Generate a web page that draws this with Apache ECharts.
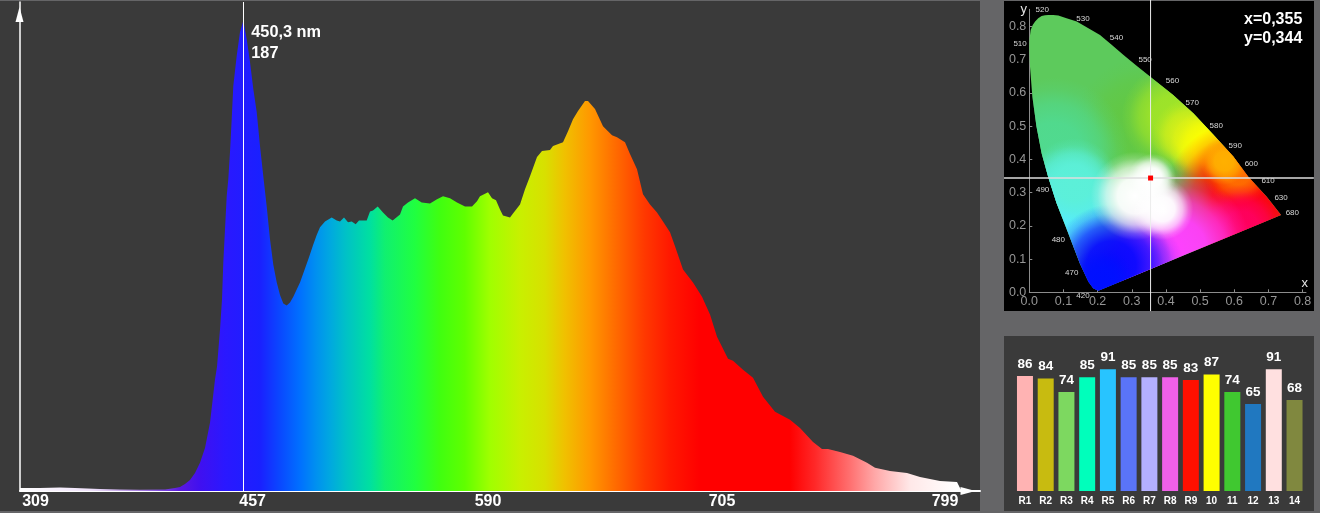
<!DOCTYPE html>
<html><head><meta charset="utf-8">
<style>html,body{margin:0;padding:0;background:#656567;overflow:hidden}#c{width:1320px;height:513px}</style>
<script src="https://cdn.jsdelivr.net/npm/echarts@6/dist/echarts.min.js"></script>
</head><body><div id="c"></div>
<script>
// Spectrum: detector channel (non-linear in nm) and intensity
const channel = [0,20,40,55,80,100,120,145,155,160,165,170,175,180,185,190,195,197,200,202,203.3,206.7,208.3,210,211.7,213.3,216.7,220,223.3,226.7,230,233.3,236.7,240,243.3,246.7,250,253.3,256.7,260,263.3,266.7,270,273.3,276.7,280,285,289,293,296.7,300,305,311.7,316.7,320,324,328,331.7,335.7,339,346.7,350,353,357.7,363,368,372.7,380,383,388,395,401.7,410,417,423,430,437,445,452,457,460,468,472,476,480,483,490,493,500,505,510,517,522,530,533,543,548,553,558,565,568,575,583,588,592,597,605,610,617,623,630,637,643,650,655,663,673,682,690,697,708,713,723,733,743,755,770,780,793,802,808,820,833,847,855,870,887,900,920,937,940,942];
const intensity = [1.2,1.2,1.4,1.2,0.8,0.6,0.5,0.6,1.2,1.6,2.8,4.4,7.2,11.2,17.1,27.1,44.3,49.4,64.2,76.2,90.9,117.2,124,134.8,147.9,161.1,173,182.6,187,179.8,170.6,159.9,150.7,137.2,125.2,113.2,100.1,90,83,78,74.6,73.8,75,77.3,80.1,82.9,88.5,93,97.7,101.8,104.9,107.2,108.8,107.6,107.2,108.8,106.9,107.2,106.1,107.6,107.6,111.2,111.6,113.2,110.8,108.8,107.6,110,113.2,114.8,116.4,114.8,114.4,116,117.2,116.4,114.8,113.2,113.2,115.2,117.2,118.8,116.4,115.6,112,109.6,108.8,110.4,114,120,125.2,132.8,135.2,135.6,137.2,138.7,143.1,147.9,151.1,155.1,155.1,151.9,145.1,143.1,141.5,140.7,138.7,134,128,118,114,110.8,107.2,102.9,97.3,88.1,82.9,77.3,70.2,61.4,52.6,51.8,48.2,45,37.5,31.5,28.3,25.1,19.5,16.7,16.7,15.5,14,11.2,9.2,8,7.2,5.6,4,3.6,1.2,0];
const tickChannels = [15.5,232.6,468,702,925];
const tickLabels = ['309','457','590','705','799'];
const peakChannel = 223.3, peakNm = '450,3', peakValue = 187;

// Colour rendering indices
const criNames = ['R1','R2','R3','R4','R5','R6','R7','R8','R9','10','11','12','13','14'];
const criValues = [86,84,74,85,91,85,85,85,83,87,74,65,91,68];
const criColors = ['#ffb3b3','#c8bb10','#7dd860','#00ffbb','#28c4ff','#5a74f8','#b4b0ff','#f060e8','#ff1000','#ffff00','#40c830','#2078c0','#ffe0e0','#80883f'];

// CIE 1931 diagram
const locusX = [0,0.001,0.004,0.010,0.017,0.026,0.036,0.046,0.056,0.070,0.085,0.109,0.139,0.173,0.207,0.241,0.275,0.314,0.355,0.421,0.48,0.539,0.597,0.641,0.695,0.737,0.202,0.187,0.173,0.148,0.114,0.08,0.056,0.036,0.021,0.009,0.002];
const locusY = [0.74,0.765,0.79,0.805,0.815,0.825,0.832,0.834,0.835,0.835,0.833,0.825,0.815,0.795,0.775,0.745,0.715,0.682,0.648,0.594,0.539,0.474,0.409,0.348,0.288,0.233,0.005,0.012,0.032,0.087,0.178,0.268,0.345,0.419,0.499,0.589,0.68];
const nmLabels = ['520','530','540','550','560','570','580','590','600','610','630','680','510','490','480','470','420'];
const nmX = [0.038,0.157,0.255,0.339,0.419,0.477,0.547,0.603,0.650,0.699,0.737,0.770,-0.027,0.039,0.085,0.124,0.157];
const nmY = [0.852,0.824,0.765,0.699,0.636,0.572,0.500,0.440,0.386,0.335,0.286,0.240,0.747,0.309,0.159,0.060,-0.012];
const whiteX = 0.355, whiteY = 0.344;
const cieTicks = [0,0.1,0.2,0.3,0.4,0.5,0.6,0.7,0.8];
const axisNameText = ['x','y'], axisNameX = [0.806,-0.016], axisNameY = [0.027,0.852];

// Styles
const specStopPx = [20,90,110,140,180,200,225,260,280,300,316,330,345,370,385,415,440,465,490,520,545,565,590,615,645,670,700,790,815,850,875,910,957];
const specStopColor = ['#ffffff','#efe2fa','#d4bdee','#a67ee0','#5a18e0','#4010f0','#2a18ff','#1a20ff','#0a48ff','#0070ff','#0090f0','#00a8e0','#00c0c8','#00e0a0','#10f070','#20ff40','#40ff10','#60ff00','#a0ff00','#c8f000','#d8e000','#f0c000','#ff9800','#ff6c00','#ff3800','#ff1800','#ff0000','#ff0000','#ff2828','#ff7070','#ffa8a8','#ffe8e8','#ffffff'];
const blobX = [0.33,0.07,0.11,0.13,0.42,0.47,0.53,0.63,0.61,0.57,0.62,0.43,0.33,0.24,0.21,0.31,0.39,0.36];
const blobY = [0.5,0.42,0.23,0.33,0.53,0.47,0.43,0.27,0.365,0.395,0.19,0.13,0.09,0.08,0.03,0.29,0.25,0.345];
const blobR = [0.2,0.22,0.2,0.13,0.15,0.11,0.12,0.24,0.1,0.07,0.13,0.22,0.12,0.18,0.1,0.13,0.09,0.07];
const blobColor = ['#62c844','#50da90','#55ecff','#5cf0d8','#a0e428','#d8f018','#ffff00','#ff0000','#ff7000','#ffb000','#ff0060','#ff40ff','#a030ff','#0808ff','#0010ff','#ffffff','#ffffff','#ffffff'];
const falloff = [[0,'ff'],[0.4,'f0'],[0.65,'a0'],[0.85,'30'],[1,'00']];
const LABEL = 'Liberation Sans';

const chart = echarts.init(document.getElementById('c'), null, {renderer:'canvas'});
const xScale = 341.7;
function renderGamut(params, api){
  const pts = locusX.map((x,i)=>api.coord([x,locusY[i]]));
  const children = [{type:'polygon',shape:{points:pts},style:{fill:'#5dca5c'}}];
  blobX.forEach((x,i)=>{
    const c = api.coord([x,blobY[i]]);
    children.push({type:'polygon',shape:{points:pts},style:{fill:new echarts.graphic.RadialGradient(c[0],c[1],blobR[i]*xScale,
      falloff.map(f=>({offset:f[0],color:blobColor[i]+f[1]})),true)}});
  });
  return {type:'group',children};
}
function renderCross(params, api){
  const x = api.value(0), y = api.value(1);
  const a = api.coord([x,0.88]), b = api.coord([x,-0.0565]);
  const c = api.coord([-0.074,y]), d = api.coord([0.833,y]);
  return {type:'group',children:[
    {type:'line',shape:{x1:a[0],y1:a[1],x2:b[0],y2:b[1]},style:{stroke:'#ececec',lineWidth:1}},
    {type:'line',shape:{x1:c[0],y1:c[1],x2:d[0],y2:d[1]},style:{stroke:'#dedede',lineWidth:1.5}}
  ]};
}
const rectPanel = (x,y,w,h,fill)=>({type:'rect',shape:{x,y,width:w,height:h},style:{fill},z:-10,silent:true});
const cieAxis = (extra)=>Object.assign({type:'value',min:0,splitLine:{show:false},
  axisLine:{show:true,onZero:false,lineStyle:{color:'#8c8c8c',width:1}},
  axisTick:{show:true,inside:true,length:3,lineStyle:{color:'#8c8c8c'},customValues:cieTicks},
  axisLabel:{color:'#969696',fontFamily:LABEL,fontSize:12.5,margin:3,customValues:cieTicks,formatter:v=>v.toFixed(1)}},extra);

chart.setOption({
  animation:false,
  backgroundColor:'#656567',
  title:{text:'x=0,355\ny=0,344',left:1239,top:5,textStyle:{color:'#fff',fontFamily:LABEL,fontSize:16,fontWeight:'bold',lineHeight:19}},
  graphic:[rectPanel(0,1,980,510,'#3a3a3a'),rectPanel(1004,1,310,310,'#000'),rectPanel(1004,336,310,175,'#3a3a3a')],
  grid:[
    {left:20,right:340,top:2,bottom:22},
    {left:1029.3,right:14,top:9.3,bottom:220.7},
    {left:1014.6,right:15.1,top:357.2,bottom:22}
  ],
  xAxis:[
    {gridIndex:0,type:'value',min:0,max:960,splitLine:{show:false},axisTick:{show:false},
      axisLine:{show:true,lineStyle:{color:'#fff',width:2}},
      axisLabel:{customValues:tickChannels,color:'#fff',fontFamily:LABEL,fontSize:16,fontWeight:'bold',margin:3,
        formatter:v=>tickLabels[tickChannels.indexOf(v)]}},
    cieAxis({gridIndex:1,max:0.81}),
    {gridIndex:2,type:'category',data:criNames,axisLine:{show:false},axisTick:{show:false},
      axisLabel:{color:'#fff',fontFamily:LABEL,fontSize:10,fontWeight:'bold',margin:5,interval:0}}
  ],
  yAxis:[
    {gridIndex:0,type:'value',min:0,max:194.5,splitLine:{show:false},axisTick:{show:false},axisLabel:{show:false},
      axisLine:{show:true,lineStyle:{color:'#fff',width:1.5}}},
    cieAxis({gridIndex:1,max:0.852}),
    {gridIndex:2,type:'value',min:0,max:100,show:false}
  ],
  series:[
    {type:'line',xAxisIndex:0,yAxisIndex:0,data:channel.map((c,i)=>[c,intensity[i]]),showSymbol:false,symbol:'none',
      lineStyle:{width:0},z:2,silent:true,
      areaStyle:{opacity:1,color:{type:'linear',x:20,y:0,x2:962,y2:0,global:true,
        colorStops:specStopPx.map((p,i)=>({offset:(p-20)/942,color:specStopColor[i]}))}},
      markLine:{silent:true,symbol:'none',animation:false,label:{show:false},lineStyle:{color:'#fff',width:1,type:'solid'},data:[{xAxis:peakChannel}]}},
    {type:'scatter',xAxisIndex:0,yAxisIndex:0,clip:false,symbolSize:0,data:[[peakChannel,peakValue]],z:5,silent:true,itemStyle:{opacity:1},
      label:{show:true,position:[8,1],align:'left',verticalAlign:'top',color:'#fff',fontFamily:LABEL,fontSize:16.3,fontWeight:'bold',lineHeight:21,
        formatter:()=>peakNm+' nm\n'+peakValue}},
    {type:'scatter',xAxisIndex:0,yAxisIndex:0,clip:false,symbol:'triangle',symbolSize:[8,15],data:[[-0.5,189.5]],itemStyle:{color:'#fff',opacity:1},z:5,silent:true},
    {type:'scatter',xAxisIndex:0,yAxisIndex:0,clip:false,symbol:'triangle',symbolSize:[8,15],symbolRotate:-90,data:[[948,0]],itemStyle:{color:'#fff',opacity:1},z:5,silent:true},

    {type:'custom',xAxisIndex:1,yAxisIndex:1,renderItem:renderGamut,data:[[0,0]],z:2,silent:true,clip:false},
    {type:'custom',xAxisIndex:1,yAxisIndex:1,renderItem:renderCross,data:[[whiteX,whiteY]],z:3,silent:true,clip:false},
    {type:'scatter',xAxisIndex:1,yAxisIndex:1,clip:false,symbol:'rect',symbolSize:5,data:[[whiteX,whiteY]],itemStyle:{color:'#ff0000',opacity:1},z:4,silent:true},
    {type:'scatter',xAxisIndex:1,yAxisIndex:1,clip:false,symbolSize:0,z:4,silent:true,itemStyle:{opacity:1},
      data:nmLabels.map((n,i)=>({value:[nmX[i],nmY[i]],name:n})),
      label:{show:true,position:'inside',formatter:'{b}',color:'#d8d8d8',fontFamily:LABEL,fontSize:8}},
    {type:'scatter',xAxisIndex:1,yAxisIndex:1,clip:false,symbolSize:0,z:4,silent:true,itemStyle:{opacity:1},
      data:axisNameText.map((n,i)=>({value:[axisNameX[i],axisNameY[i]],name:n})),
      label:{show:true,position:'inside',formatter:'{b}',color:'#e4e4e4',fontFamily:LABEL,fontSize:13}},

    {type:'bar',xAxisIndex:2,yAxisIndex:2,barWidth:16,z:2,silent:true,
      data:criValues.map((v,i)=>({value:v,itemStyle:{color:criColors[i]}})),
      label:{show:true,position:'top',distance:5,color:'#fff',fontFamily:LABEL,fontSize:13.5,fontWeight:'bold'}}
  ]
});
</script></body></html>
